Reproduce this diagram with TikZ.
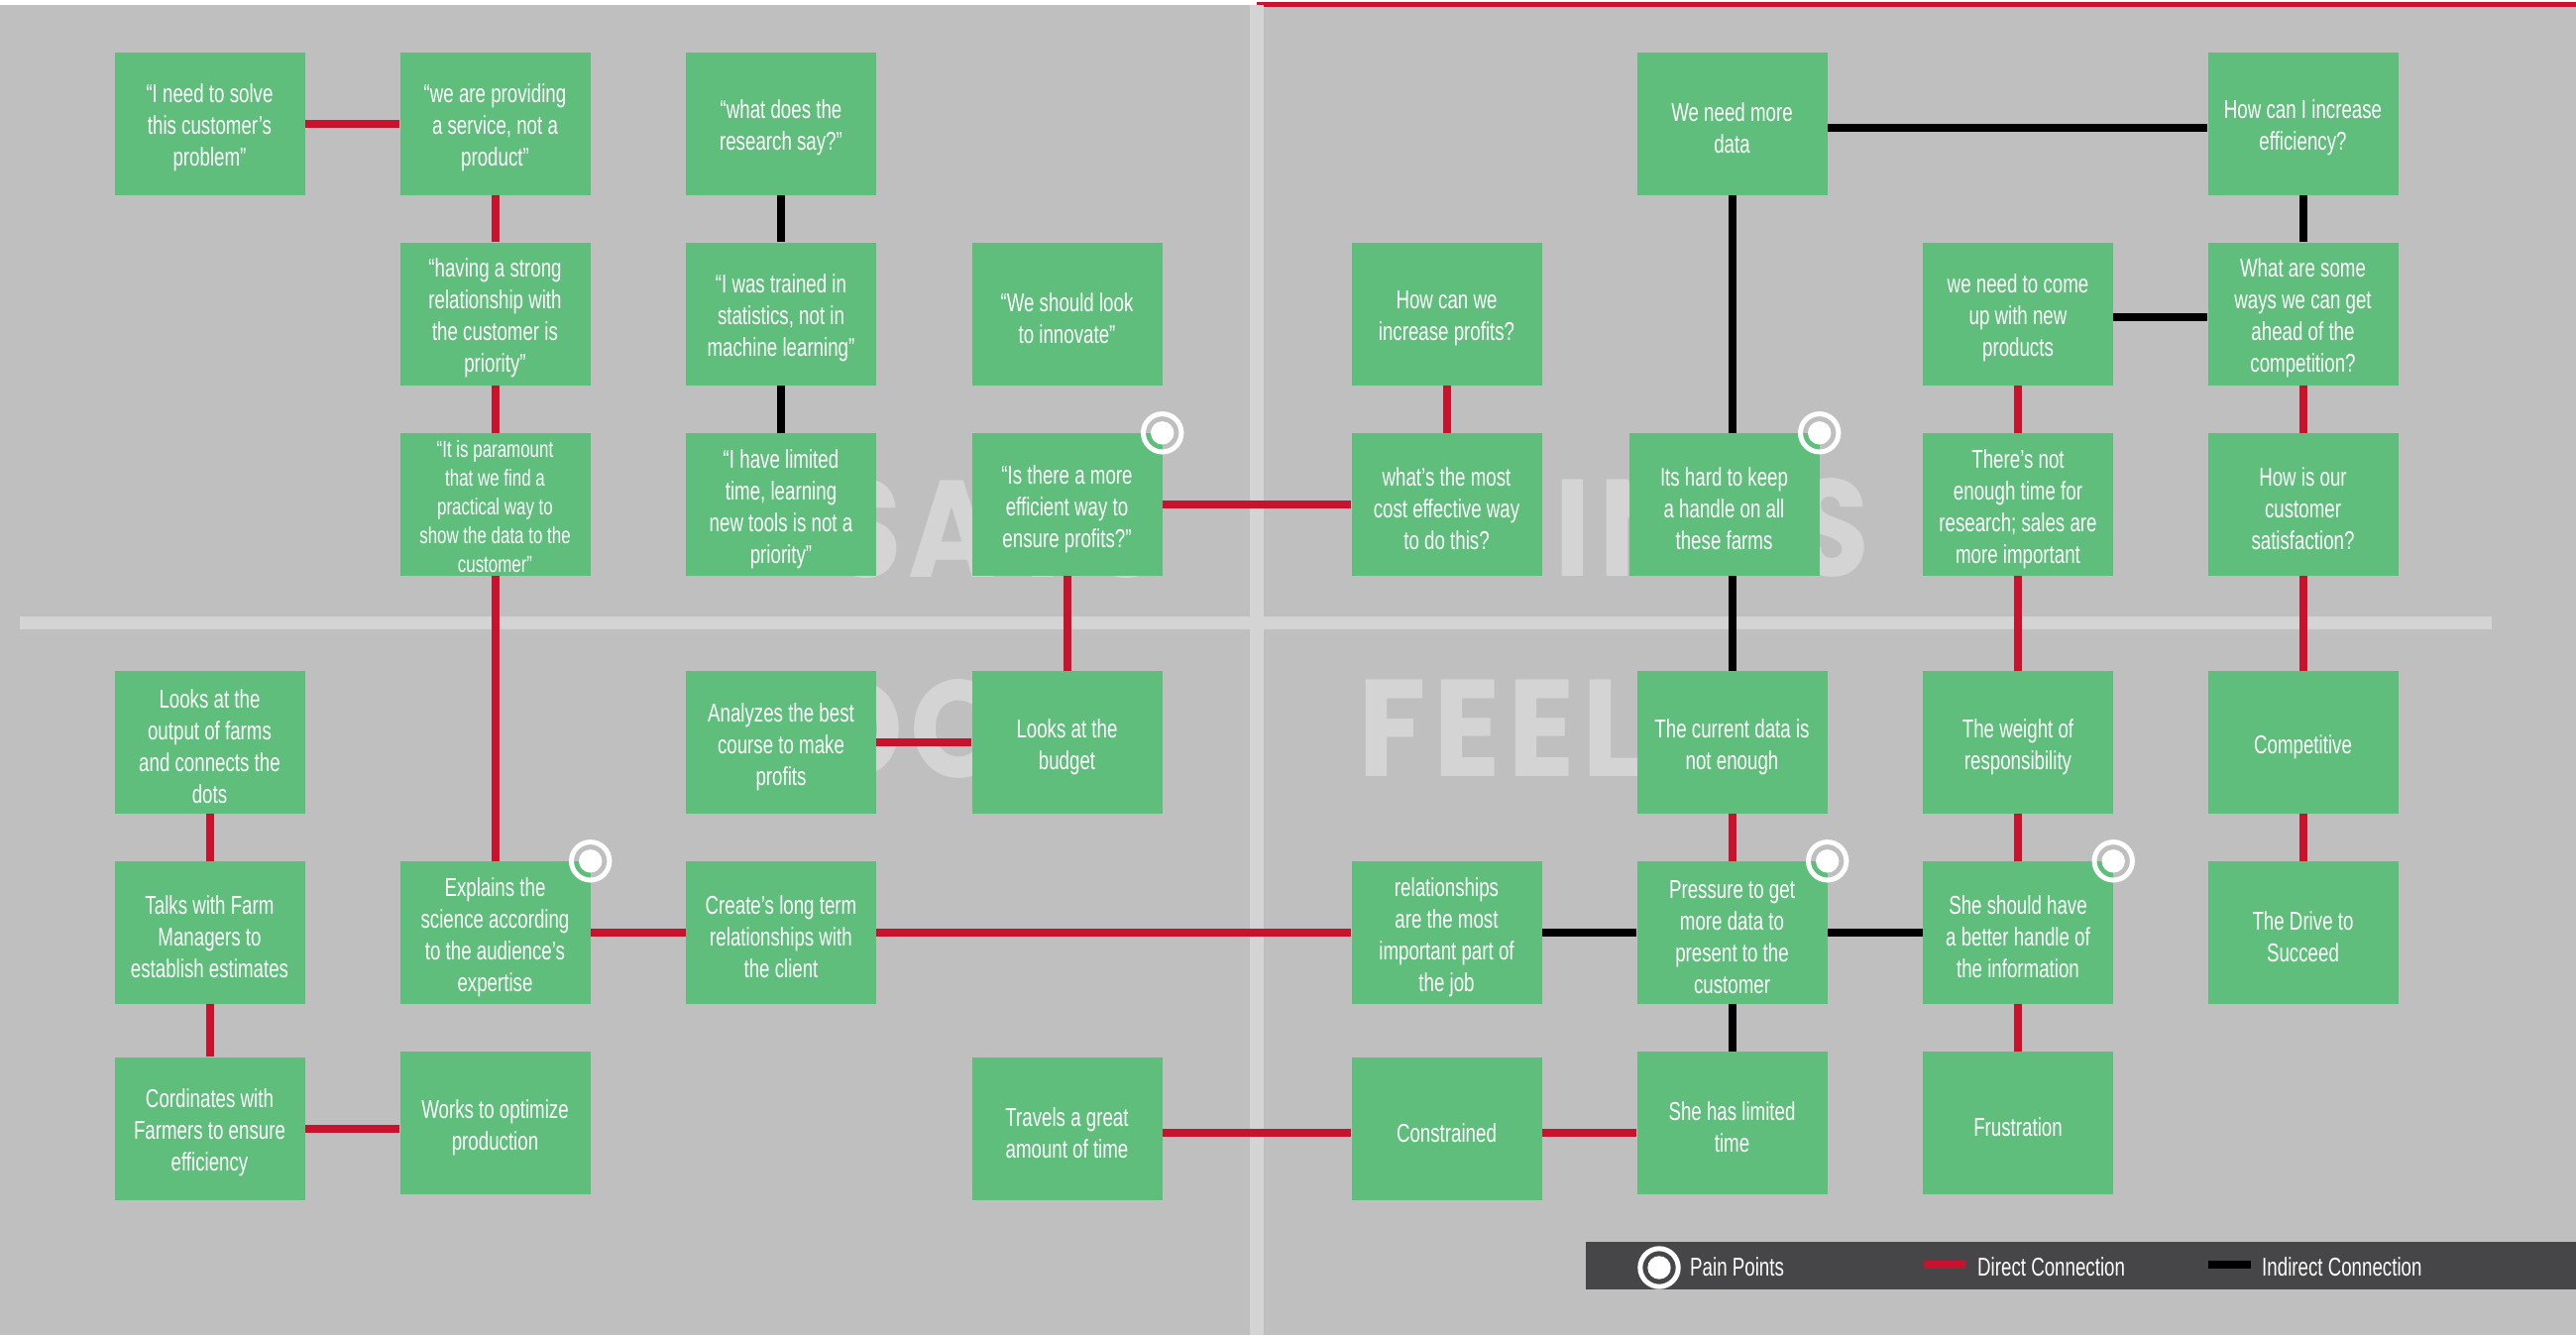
\documentclass[tikz,border=0pt]{standalone}
\usepackage{fontspec}
\setmainfont{Liberation Sans}[FakeStretch=0.72]
\newfontfamily\wmfont{Poppins}[LetterSpace=6]
\definecolor{bggray}{RGB}{191,191,191}
\definecolor{divgray}{RGB}{212,212,212}
\definecolor{boxgreen}{RGB}{95,190,123}
\definecolor{dred}{RGB}{200,18,46}
\definecolor{leggray}{RGB}{70,70,72}
\newcommand{\boxtop}{\rule{0pt}{28pt}}
\newcommand{\boxtopsmall}{\rule{0pt}{21pt}}
\pgfdeclarelayer{backdrop}
\pgfdeclarelayer{links}
\pgfsetlayers{backdrop,links,main}
\begin{document}
\begin{tikzpicture}[x=1pt,y=-1pt,
  box/.style={fill=boxgreen, minimum width=192pt, minimum height=144pt, inner sep=0pt, align=center, text=white, font={\fontsize{26}{32}\selectfont}},
  smallbox/.style={box, font={\fontsize{23.5}{29}\selectfont}},
  dline/.style={line width=8pt, draw=dred},
  iline/.style={line width=8pt, draw=black},
  wm/.style={text=divgray, font={\wmfont\bfseries\fontsize{139}{139}\selectfont}, anchor=base west, inner sep=0pt},
  legtext/.style={text=white, anchor=base west, inner sep=0pt, font={\fontsize{26}{31.5}\selectfont}},
  pain/.pic={\draw[white, line width=5pt] (0,0) circle[radius=19.2pt]; \fill[white] (0,0) circle[radius=11.7pt];}
]
\useasboundingbox (0,0) rectangle (2599,1347);
\begin{pgfonlayer}{backdrop}
% background
\fill[bggray] (0,0) rectangle (2599,1347);
\fill[white] (0,0) rectangle (2599,5);
\draw[dred, line width=5pt] (1268,4.5) -- (2599,4.5);
% dividers
\fill[divgray] (1261,5) rectangle (1275,1347);
\fill[divgray] (20,622) rectangle (2514,635);
% watermark words
\node[wm] (wsays) at (836,582) {\scalebox{0.86}[1]{SAYS}};
\node[wm] (wdoes) at (820,784) {\scalebox{0.9}[1]{DOES}};
\node[wm] (wthinks) at (1388,581) {\scalebox{0.9}[1]{THINKS}};
\node[wm] (wfeels) at (1370,783) {\scalebox{0.9}[1]{FEELS}};
\end{pgfonlayer}

% boxes
% column 1
\node[box] (solve)   at (211.5,124.5) {\boxtop“I need to solve\\this customer’s\\problem”};
\node[box] (output)  at (211.5,749)   {\boxtop Looks at the\\output of farms\\and connects the\\dots};
\node[box] (talks)   at (211.5,941)   {\boxtop Talks with Farm\\Managers to\\establish estimates};
\node[box] (cord)    at (211.5,1138.5){\boxtop Cordinates with\\Farmers to ensure\\efficiency};
% column 2
\node[box] (service) at (499.5,124.5) {\boxtop“we are providing\\a service, not a\\product”};
\node[box] (strong)  at (499.5,316.5) {\boxtop“having a strong\\relationship with\\the customer is\\priority”};
\node[smallbox] (para) at (499.5,509) {\boxtopsmall“It is paramount\\that we find a\\practical way to\\show the data to the\\customer”};
\node[box] (explain) at (499.5,941)   {\boxtop Explains the\\science according\\to the audience’s\\expertise};
\node[box] (optim)   at (499.5,1133)  {\boxtop Works to optimize\\production};
% column 3
\node[box] (research) at (788,124.5)  {\boxtop“what does the\\research say?”};
\node[box] (trained)  at (788,316.5)  {\boxtop“I was trained in\\statistics, not in\\machine learning”};
\node[box] (limited)  at (788,509)    {\boxtop“I have limited\\time, learning\\new tools is not a\\priority”};
\node[box] (analyzes) at (788,749)    {\boxtop Analyzes the best\\course to make\\profits};
\node[box] (create)   at (788,941)    {\boxtop Create’s long term\\relationships with\\the client};
% column 4
\node[box] (innovate) at (1076.5,316.5) {\boxtop“We should look\\to innovate”};
\node[box] (effic)    at (1076.5,509)   {\boxtop“Is there a more\\efficient way to\\ensure profits?”};
\node[box] (budget)   at (1076.5,749)   {\boxtop Looks at the\\budget};
\node[box] (travels)  at (1076.5,1138.5){\boxtop Travels a great\\amount of time};
% column 5
\node[box] (profits)  at (1459.5,316.5) {\boxtop How can we\\increase profits?};
\node[box] (costeff)  at (1459.5,509)   {\boxtop what’s the most\\cost effective way\\to do this?};
\node[box] (relat)    at (1459.5,941)   {\boxtop relationships\\are the most\\important part of\\the job};
\node[box] (constr)   at (1459.5,1138.5){\boxtop Constrained};
% column 6
\node[box] (moredata) at (1747.5,124.5) {\boxtop We need more\\data};
\node[box] (hard)     at (1739.5,509)   {\boxtop Its hard to keep\\a handle on all\\these farms};
\node[box] (current)  at (1747.5,749)   {\boxtop The current data is\\not enough};
\node[box] (pressure) at (1747.5,941)   {\boxtop Pressure to get\\more data to\\present to the\\customer};
\node[box] (shetime)  at (1747.5,1133)  {\boxtop She has limited\\time};
% column 7
\node[box] (newprod)  at (2036,316.5)   {\boxtop we need to come\\up with new\\products};
\node[box] (notime)   at (2036,509)     {\boxtop There’s not\\enough time for\\research; sales are\\more important};
\node[box] (weight)   at (2036,749)     {\boxtop The weight of\\responsibility};
\node[box] (handle)   at (2036,941)     {\boxtop She should have\\a better handle of\\the information};
\node[box] (frust)    at (2036,1133)    {\boxtop Frustration};
% column 8
\node[box] (incr)     at (2323.5,124.5) {\boxtop How can I increase\\efficiency?};
\node[box] (ahead)    at (2323.5,316.5) {\boxtop What are some\\ways we can get\\ahead of the\\competition?};
\node[box] (satisf)   at (2323.5,509)   {\boxtop How is our\\customer\\satisfaction?};
\node[box] (compet)   at (2323.5,749)   {\boxtop Competitive};
\node[box] (drive)    at (2323.5,941)   {\boxtop The Drive to\\Succeed};

% connectors, drawn beneath the boxes
\begin{pgfonlayer}{links}
% direct connections
\draw[dline] (solve.east) -- (service.west);
\draw[dline] (service.south) -- (strong.north);
\draw[dline] (strong.south) -- (para.north);
\draw[dline] (para.south) -- (explain.north);
\draw[dline] (effic.east) -- (costeff.west);
\draw[dline] (effic.south) -- (budget.north);
\draw[dline] (analyzes.east) -- (budget.west);
\draw[dline] (profits.south) -- (costeff.north);
\draw[dline] (newprod.south) -- (notime.north);
\draw[dline] (notime.south) -- (weight.north);
\draw[dline] (weight.south) -- (handle.north);
\draw[dline] (handle.south) -- (frust.north);
\draw[dline] (ahead.south) -- (satisf.north);
\draw[dline] (satisf.south) -- (compet.north);
\draw[dline] (compet.south) -- (drive.north);
\draw[dline] (current.south) -- (pressure.north);
\draw[dline] (output.south) -- (talks.north);
\draw[dline] (talks.south) -- (cord.north);
\draw[dline] (cord.east) -- (cord.east -| optim.west);
\draw[dline] (explain.east) -- (create.west);
\draw[dline] (create.east) -- (relat.west);
\draw[dline] ([yshift=-4pt]travels.east) -- ([yshift=-4pt]constr.west);
\draw[dline] ([yshift=-4pt]constr.east) -- ([yshift=-4pt]constr.east -| shetime.west);
% indirect connections
\draw[iline] (research.south) -- (trained.north);
\draw[iline] (trained.south) -- (limited.north);
\draw[iline] ([yshift=-4pt]moredata.east) -- ([yshift=-4pt]incr.west);
\draw[iline] (moredata.south) -- (moredata.south |- hard.north);
\draw[iline] (moredata.south |- hard.south) -- (current.north);
\draw[iline] (incr.south) -- (ahead.north);
\draw[iline] ([yshift=-3pt]newprod.east) -- ([yshift=-3pt]ahead.west);
\draw[iline] (relat.east) -- (pressure.west);
\draw[iline] (pressure.east) -- (handle.west);
\draw[iline] (pressure.south) -- (shetime.north);
\end{pgfonlayer}

% pain points
\pic at (effic.north east) {pain};
\pic at (hard.north east) {pain};
\pic at (explain.north east) {pain};
\pic at (pressure.north east) {pain};
\pic at (handle.north east) {pain};

% legend
\fill[leggray] (1600,1253) rectangle (2599,1301);
\pic at (1674,1279) {pain};
\node[legtext] (lpain) at (1705,1287) {Pain Points};
\coordinate (ldA) at (1941,1275.5);
\coordinate (ldB) at (1983,1275.5);
\draw[dline] (ldA) -- (ldB);
\node[legtext] (ldirect) at (1995,1287) {Direct Connection};
\coordinate (liA) at (2228,1275.5);
\coordinate (liB) at (2271,1275.5);
\draw[iline] (liA) -- (liB);
\node[legtext] (lindirect) at (2282,1287) {Indirect Connection};
\end{tikzpicture}
\end{document}
